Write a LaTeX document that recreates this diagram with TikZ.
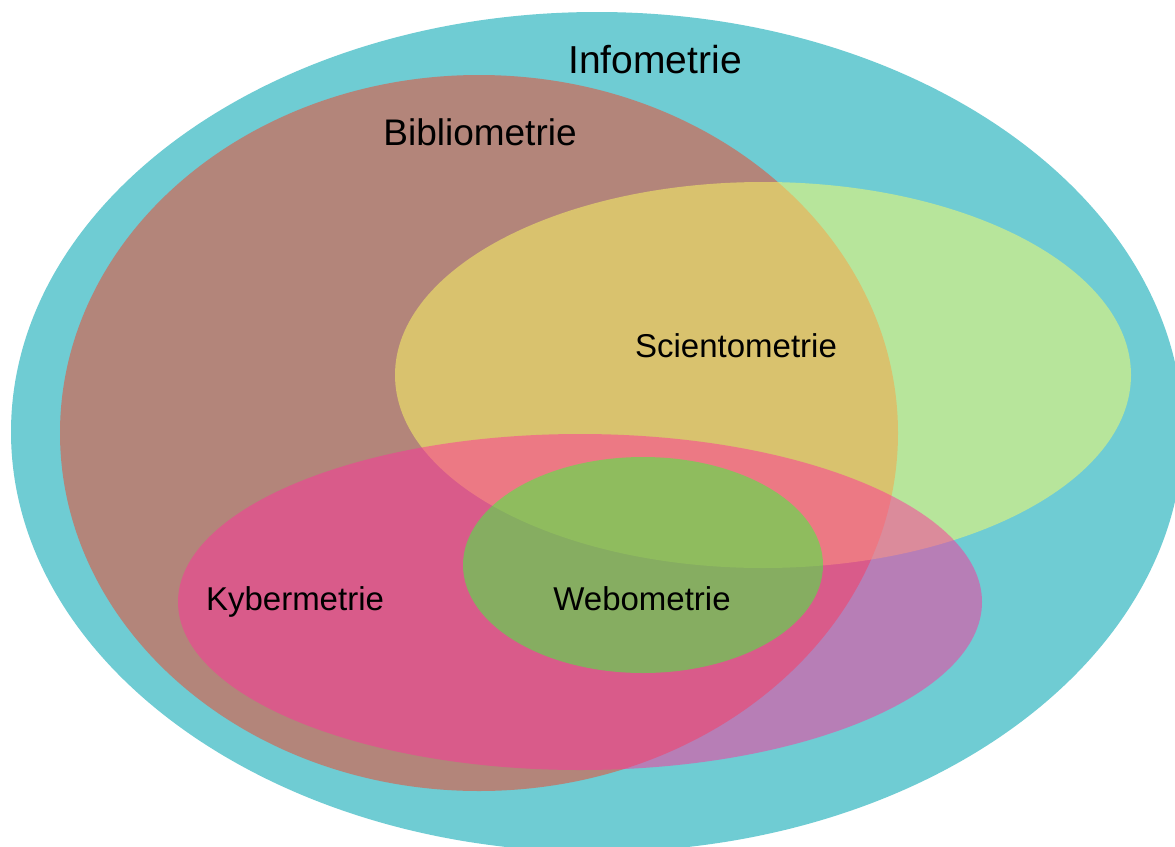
\documentclass[tikz,border=0pt]{standalone}
\usepackage{fontspec}
\setmainfont{Liberation Sans}
\definecolor{infoC}{RGB}{111,204,211}
\definecolor{biblioC}{RGB}{179,133,122}
\definecolor{scientoC}{RGB}{255,255,100}
\definecolor{kyberC}{RGB}{255,50,155}
\definecolor{weboC}{RGB}{52,255,57}
\tikzset{
  lbl/.style={anchor=base, inner sep=0pt, text=black},
  blob/.style={fill opacity=0.5}
}
\begin{document}
\begin{tikzpicture}[x=1pt,y=-1pt]
\useasboundingbox (0,0) rectangle (1175,846);
\clip (0,0) rectangle (1175,846);
\fill[white] (0,0) rectangle (1175,846);
% Infometrie
\fill[infoC] (597,432) ellipse [x radius=586pt, y radius=420pt];
% Bibliometrie
\fill[biblioC] (479,433) ellipse [x radius=419pt, y radius=358pt];
% Scientometrie
\fill[scientoC, blob] (763,375) ellipse [x radius=368pt, y radius=193pt];
% Kybermetrie
\fill[kyberC, blob] (580,602) ellipse [x radius=402pt, y radius=168pt];
% Webometrie
\fill[weboC, blob] (643,565) ellipse [x radius=180pt, y radius=108pt];
% labels
\node[lbl, font=\fontsize{39}{46}\selectfont] (info) at (655,73) {Infometrie};
\node[lbl, font=\fontsize{37}{44}\selectfont] (biblio) at (480,145) {Bibliometrie};
\node[lbl, font=\fontsize{33}{40}\selectfont] (sciento) at (736,357) {Scientometrie};
\node[lbl, font=\fontsize{33}{40}\selectfont] (kyber) at (295,610) {Kybermetrie};
\node[lbl, font=\fontsize{33}{40}\selectfont] (webo) at (642,610) {Webometrie};
\end{tikzpicture}
\end{document}
